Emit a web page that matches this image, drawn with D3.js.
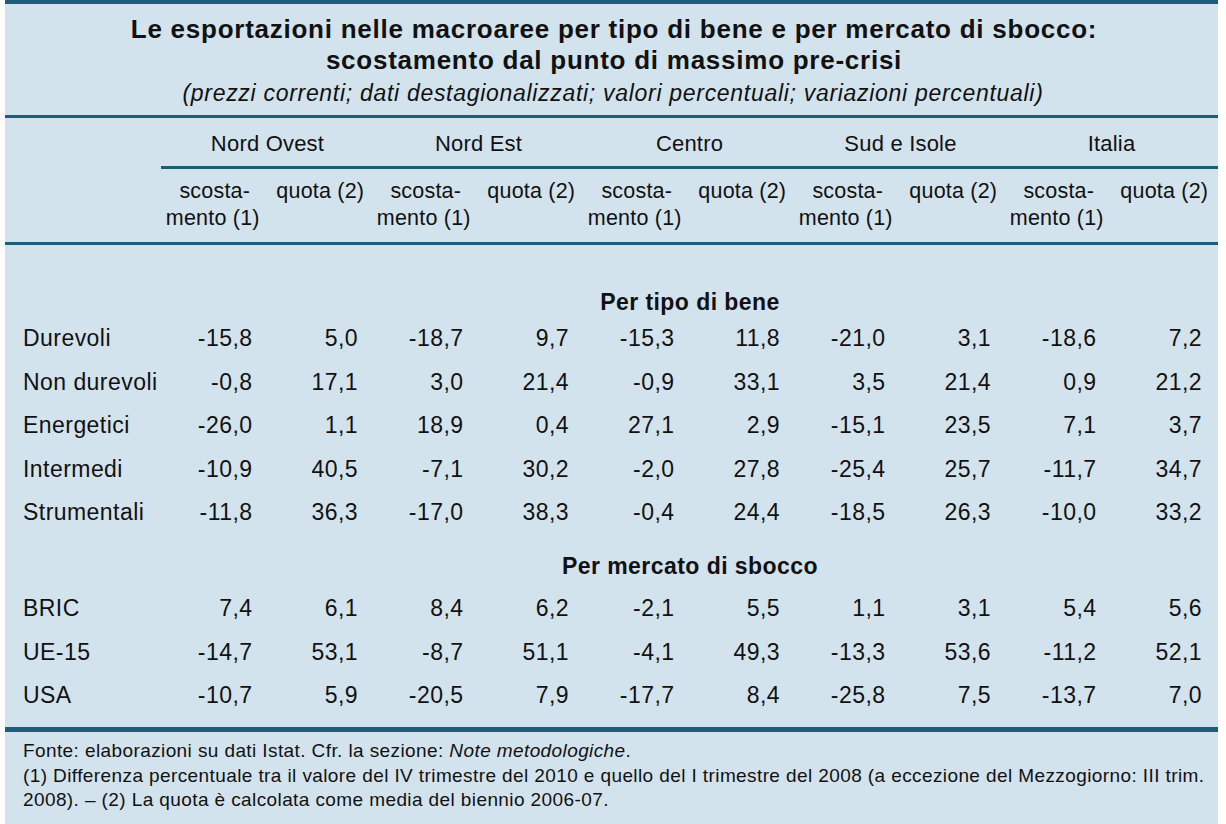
<!DOCTYPE html>
<html>
<head>
<meta charset="utf-8">
<script src="https://cdn.jsdelivr.net/npm/d3@7"></script>
<style>
  body { margin: 0; background: #fff; }
  svg text { font-family: "Liberation Sans", Arial, sans-serif; fill: #111; }
</style>
</head>
<body>
<div id="chart"></div>
<script>
// data
var titleLines = ["Le esportazioni nelle macroaree per tipo di bene e per mercato di sbocco:",
                  "scostamento dal punto di massimo pre-crisi"];
var subtitle = "(prezzi correnti; dati destagionalizzati; valori percentuali; variazioni percentuali)";
var areas = ["Nord Ovest", "Nord Est", "Centro", "Sud e Isole", "Italia"];
var sections = ["Per tipo di bene", "Per mercato di sbocco"];
var rowsBene = ["Durevoli", "Non durevoli", "Energetici", "Intermedi", "Strumentali"];
var rowsMercato = ["BRIC", "UE-15", "USA"];

// each row: one value per area
var scostBene = [
  [-15.8, -18.7, -15.3, -21.0, -18.6],
  [-0.8, 3.0, -0.9, 3.5, 0.9],
  [-26.0, 18.9, 27.1, -15.1, 7.1],
  [-10.9, -7.1, -2.0, -25.4, -11.7],
  [-11.8, -17.0, -0.4, -18.5, -10.0]
];
var quotaBene = [
  [5.0, 9.7, 11.8, 3.1, 7.2],
  [17.1, 21.4, 33.1, 21.4, 21.2],
  [1.1, 0.4, 2.9, 23.5, 3.7],
  [40.5, 30.2, 27.8, 25.7, 34.7],
  [36.3, 38.3, 24.4, 26.3, 33.2]
];
var scostMercato = [
  [7.4, 8.4, -2.1, 1.1, 5.4],
  [-14.7, -8.7, -4.1, -13.3, -11.2],
  [-10.7, -20.5, -17.7, -25.8, -13.7]
];
var quotaMercato = [
  [6.1, 6.2, 5.5, 3.1, 5.6],
  [53.1, 51.1, 49.3, 53.6, 52.1],
  [5.9, 7.9, 8.4, 7.5, 7.0]
];
var footnotes = [
  [{t: "Fonte: elaborazioni su dati Istat. Cfr. la sezione: "}, {t: "Note metodologiche", i: true}, {t: "."}],
  [{t: "(1) Differenza percentuale tra il valore del IV trimestre del 2010 e quello del I trimestre del 2008 (a eccezione del Mezzogiorno: III trim."}],
  [{t: "2008). \u2013 (2) La quota è calcolata come media del biennio 2006-07."}]
];

var width = 1226, height = 824;
var bg = "#d3e3ed", lineCol = "#1c5d77";
var fmt = function (v) { return d3.format(".1f")(v).replace("\u2212", "-").replace(".", ","); };

var svg = d3.select("#chart").append("svg")
  .attr("width", width).attr("height", height);

svg.append("rect").attr("x", 5).attr("y", 0).attr("width", 1213).attr("height", height).attr("fill", bg);
svg.append("rect").attr("x", 5).attr("y", 0).attr("width", 1213).attr("height", 4).attr("fill", lineCol);

// title
svg.selectAll(".title").data(titleLines).enter().append("text")
  .attr("x", 614).attr("y", function (d, i) { return 38 + i * 31; })
  .attr("text-anchor", "middle").style("font-size", "26px").style("font-weight", "bold")
  .style("letter-spacing", "0.75px")
  .text(function (d) { return d; });
svg.append("text").attr("x", 613).attr("y", 101).attr("text-anchor", "middle")
  .style("font-size", "23px").style("font-style", "italic").style("letter-spacing", "0.7px")
  .text(subtitle);

// horizontal rules
svg.append("rect").attr("x", 5).attr("y", 115).attr("width", 1213).attr("height", 3).attr("fill", lineCol);
svg.append("rect").attr("x", 161).attr("y", 166).attr("width", 1057).attr("height", 3).attr("fill", lineCol);
svg.append("rect").attr("x", 5).attr("y", 242).attr("width", 1213).attr("height", 3).attr("fill", lineCol);
svg.append("rect").attr("x", 5).attr("y", 727).attr("width", 1213).attr("height", 5).attr("fill", lineCol);

// column scales
var groupX = d3.scaleBand().domain(areas).range([161, 1216]);
var subX = d3.scaleBand().domain(["s", "q"]).range([0, groupX.bandwidth()]);

var body = function (sel) {
  return sel.style("font-size", "23px").style("letter-spacing", "0.45px");
};
var head = function (sel) {
  return sel.style("font-size", "22px").style("letter-spacing", "0.2px");
};

// group headers
head(svg.selectAll(".area").data(areas).enter().append("text")
  .attr("x", function (d) { return groupX(d) + groupX.bandwidth() / 2 + 1; })
  .attr("y", 151).attr("text-anchor", "middle"))
  .text(function (d) { return d; });

var subHead = svg.selectAll(".sub").data(areas).enter().append("g")
  .attr("transform", function (d) { return "translate(" + groupX(d) + ",0)"; });
head(subHead.append("text").attr("x", subX("s") + subX.bandwidth() / 2 + 1).attr("y", 198)
  .attr("text-anchor", "middle")).style("font-size", "21.5px").text("scosta-");
head(subHead.append("text").attr("x", subX("s") + subX.bandwidth() / 2 - 1).attr("y", 225)
  .attr("text-anchor", "middle")).style("font-size", "21.5px").text("mento (1)");
head(subHead.append("text").attr("x", subX("q") + subX.bandwidth() / 2 + 1).attr("y", 198)
  .attr("text-anchor", "middle")).style("font-size", "21.5px").text("quota (2)");

// rows
var rowY = d3.scaleLinear().domain([0, 1]).range([0, 43.5]);
var blocks = [
  {title: sections[0], titleY: 310, startY: 346, rows: rowsBene, s: scostBene, q: quotaBene},
  {title: sections[1], titleY: 574, startY: 616, rows: rowsMercato, s: scostMercato, q: quotaMercato}
];

blocks.forEach(function (b) {
  body(svg.append("text").attr("x", 690).attr("y", b.titleY).attr("text-anchor", "middle")
    .style("font-weight", "bold")).text(b.title);
  var rows = svg.append("g").selectAll("g").data(b.rows).enter().append("g")
    .attr("transform", function (d, i) { return "translate(0," + (b.startY + rowY(i)) + ")"; });
  body(rows.append("text").attr("x", 23)).text(function (d) { return d; });
  rows.each(function (d, i) {
    var g = d3.select(this);
    areas.forEach(function (a, j) {
      body(g.append("text").attr("x", groupX(a) + subX("s") + subX.bandwidth() - 14)
        .attr("text-anchor", "end")).text(fmt(b.s[i][j]));
      body(g.append("text").attr("x", groupX(a) + subX("q") + subX.bandwidth() - 14)
        .attr("text-anchor", "end")).text(fmt(b.q[i][j]));
    });
  });
});

// footnotes
footnotes.forEach(function (line, i) {
  var t = svg.append("text").attr("x", 23).attr("y", 757 + i * 24.5)
    .style("font-size", "19px").style("letter-spacing", "0.4px");
  line.forEach(function (p) {
    t.append("tspan").style("font-style", p.i ? "italic" : "normal").text(p.t);
  });
});
</script>
</body>
</html>
